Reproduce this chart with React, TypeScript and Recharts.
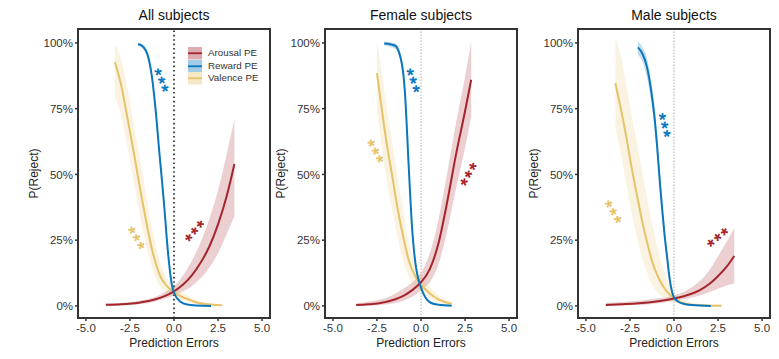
import React from 'react';
import { ComposedChart, Line, Area, XAxis, YAxis, ReferenceLine, ReferenceDot, Legend } from 'recharts';

// [x, P(Reject) %, ribbon low %, ribbon high %]
type Pt = [number, number, number, number];
type Stars = [number, number, number]; // [series index, x, P %] of the middle star of a "***" group

const xTicks = [-5, -2.5, 0, 2.5, 5];
const yTicks = [0, 25, 50, 75, 100];
const xDomain: [number, number] = [-5.45, 5.45];
const yDomain: [number, number] = [-4.6, 105.3];
const seriesNames = ['Arousal PE', 'Reward PE', 'Valence PE'];
const panelTitles = ['All subjects', 'Female subjects', 'Male subjects'];

// ---------- All subjects ----------
const allArousal: Pt[] = [
  [-3.87, 0.4, 0.1, 0.9], [-3, 0.6, 0.2, 1.2], [-2, 1.2, 0.6, 2.0], [-1, 2.6, 1.8, 3.6],
  [-0.5, 3.8, 2.8, 5.3], [0, 5.5, 4.0, 7.5], [0.5, 8.0, 5.5, 11.5], [1, 11.5, 7.5, 17],
  [1.5, 16.3, 10.5, 24], [2, 22.5, 14.5, 33], [2.5, 31, 20, 44], [3, 42, 27.5, 58], [3.43, 54, 34, 71],
];
const allReward: Pt[] = [
  [-2.04, 99.6, 98.8, 100], [-1.75, 98.5, 97.5, 99.3], [-1.5, 95.5, 94, 97], [-1.25, 87, 85, 89],
  [-1.05, 75, 73, 77], [-0.84, 59, 57, 61], [-0.58, 40, 38, 42], [-0.35, 21, 19.5, 22.5],
  [-0.14, 8.7, 7.8, 9.8], [0, 5, 4.3, 5.8], [0.37, 1.6, 1.2, 2], [0.75, 0.5, 0.3, 0.7],
  [1.25, 0.15, 0.05, 0.3], [2.1, 0, 0, 0.1],
];
const allValence: Pt[] = [
  [-3.36, 92.7, 80, 99.5], [-3, 84, 72, 94], [-2.74, 75, 64, 86], [-2.3, 59, 48, 70],
  [-1.8, 40, 30, 51], [-1.23, 21, 14, 29], [-0.76, 11, 7, 16], [-0.4, 7.5, 5, 10.5],
  [0, 5.2, 3.5, 7.2], [0.5, 3.3, 2.1, 5], [0.75, 2.7, 1.7, 4], [1.2, 1.5, 0.8, 2.4],
  [1.67, 0.8, 0.4, 1.4], [2.2, 0.4, 0.1, 0.9], [2.74, 0.2, 0, 0.6],
];
const allStars: Stars[] = [[1, -0.62, 85.8], [2, -2.04, 25.9], [0, 1.13, 29.1]];

// ---------- Female subjects ----------
const femArousal: Pt[] = [
  [-3.68, 0.3, 0, 1], [-3, 0.6, 0.1, 1.6], [-2, 1.5, 0.5, 3], [-1, 3.8, 2, 6.5],
  [-0.5, 6, 3.5, 9], [0, 9, 6, 12.5], [0.5, 14, 9, 20], [1, 24, 16, 33],
  [1.5, 40, 29, 51], [2, 58, 45, 70], [2.5, 74, 60, 87], [2.85, 86, 72, 100.5],
];
const femReward: Pt[] = [
  [-2.09, 99.8, 99, 100.5], [-1.75, 99.5, 98.5, 100.3], [-1.43, 98.8, 97.6, 99.8], [-1.25, 96.5, 95, 97.8],
  [-1.1, 92.5, 90.5, 94.3], [-1.0, 88, 85.8, 90], [-0.91, 81, 78.6, 83.3], [-0.82, 70, 67.5, 72.5],
  [-0.72, 56, 53.5, 58.5], [-0.62, 43, 40.5, 45.5], [-0.53, 32, 29.8, 34.2], [-0.42, 22.5, 20.5, 24.5],
  [-0.3, 15.5, 13.8, 17.2], [-0.18, 11, 9.6, 12.5], [-0.08, 8.6, 7.4, 9.9], [0, 7, 6, 8.1],
  [0.17, 4.2, 3.4, 5.1], [0.35, 2.3, 1.8, 2.9], [0.55, 1.2, 0.8, 1.7], [1, 0.4, 0.2, 0.7], [1.74, 0.1, 0, 0.3],
];
const femValence: Pt[] = [
  [-2.5, 88.5, 75, 100.5], [-2.25, 76, 62, 90], [-2, 64, 50, 78], [-1.65, 50, 37, 63],
  [-1.3, 36, 25, 48], [-1.0, 26, 17, 36], [-0.68, 17, 11, 24], [-0.3, 11, 7, 15.5],
  [0, 8.2, 5.2, 11.5], [0.45, 5, 3, 7.5], [1.02, 2.4, 1.2, 4], [1.74, 0.8, 0.2, 1.8],
];
const femStars: Stars[] = [[1, -0.36, 85.7], [2, -2.49, 58.9], [0, 2.64, 50.6]];

// ---------- Male subjects ----------
const maleArousal: Pt[] = [
  [-3.87, 0.3, 0, 1.2], [-3, 0.6, 0.1, 1.5], [-2, 1.0, 0.3, 2], [-1, 1.7, 0.9, 2.8],
  [0, 2.8, 2, 4], [0.5, 3.6, 2.5, 5.2], [1, 4.6, 3.2, 7], [1.47, 6, 4, 9.5],
  [2, 8.3, 5.2, 13.5], [2.42, 10.8, 6.3, 18], [3, 15, 7.8, 24.5], [3.42, 19, 8.5, 29.5],
];
const maleReward: Pt[] = [
  [-2.05, 98.3, 95.5, 100.5], [-1.8, 96, 93, 98.5], [-1.54, 91, 87, 94.5], [-1.3, 82, 78, 86],
  [-1.11, 72, 68, 76], [-0.95, 60, 56, 64], [-0.79, 46, 42, 50], [-0.66, 36, 32.5, 39.5],
  [-0.55, 28, 25, 31], [-0.4, 19, 16.5, 21.5], [-0.23, 9.5, 8, 11], [0, 3.2, 2.4, 4],
  [0.25, 1.6, 1.1, 2.1], [0.53, 0.8, 0.5, 1.2], [1, 0.3, 0.1, 0.5], [2.09, 0, 0, 0.1],
];
const maleValence: Pt[] = [
  [-3.33, 84.8, 68, 102], [-3.05, 76, 59, 96], [-2.7, 64, 46, 84], [-2.39, 52, 35, 72],
  [-2.1, 42, 26, 62], [-1.8, 32, 18, 51], [-1.5, 23.5, 12, 40], [-1.2, 16, 7.5, 30],
  [-0.9, 11, 5, 21], [-0.6, 7.3, 3.2, 14], [-0.3, 4.7, 2, 8.5], [0, 3, 1.5, 5],
  [0.9, 0.5, 0.1, 1.5], [1.8, 0.2, 0, 0.7], [2.7, 0.1, 0, 0.4],
];
const maleStars: Stars[] = [[1, -0.45, 68.6], [2, -3.36, 35.8], [0, 2.45, 26.7]];

// styling
const COLORS = ['#A4262C', '#0B77BD', '#E6C36A'];
const RIBBON_OPACITY = [0.22, 0.25, 0.2];
const FONT = "'Liberation Sans', Arial, Helvetica, sans-serif";
const AXIS = '#333333';
const STAR_ANGLES = [
  [-50, 67, 60],
  [-61, 70, 62],
  [-40, 75, 60],
];
const STAR_SIZE = 19;

const toRows = (pts: Pt[]) => pts.map(([x, p, lo, hi]) => ({ x, p, band: [lo, hi] }));
const xFmt = (v: number) => v.toFixed(1);
const yFmt = (v: number) => `${v}%`;

const renderLegend = () => (
  <div style={{ fontFamily: FONT, fontSize: 9.8, color: '#333', lineHeight: '12px' }}>
    {seriesNames.map((n, i) => (
      <div key={n} style={{ display: 'flex', alignItems: 'center', height: 12.5 }}>
        <svg width={14} height={12.5} style={{ display: 'block' }}>
          <rect x={0} y={0} width={14} height={12.5} fill={COLORS[i]} fillOpacity={0.38} />
          <line x1={0} x2={14} y1={6.25} y2={6.25} stroke={COLORS[i]} strokeWidth={1.8} />
        </svg>
        <span style={{ marginLeft: 6 }}>{n}</span>
      </div>
    ))}
  </div>
);

type PanelProps = {
  index: number;
  series: Pt[][];
  stars: Stars[];
  boxLeft: number;
  showLegend: boolean;
  boldRef: boolean;
};

const Y_AXIS_W = 55;
const BOX_W = 192;
const TOP = 29;
const BOTTOM = 12;
const X_AXIS_H = 29;
const CHART_H = 359;
const FRAME = 2;

function Panel({ index, series, stars, boxLeft, showLegend, boldRef }: PanelProps) {
  const rows = series.map(toRows);
  const drawOrder = [2, 0, 1];
  const boxH = CHART_H - TOP - BOTTOM - X_AXIS_H;
  const axisLineStyle = { stroke: AXIS, strokeWidth: 2 };
  const tickLineStyle = { stroke: AXIS, strokeWidth: 1.5 };
  const frameBase: React.CSSProperties = { position: 'absolute', background: AXIS, pointerEvents: 'none' };
  return (
    <div style={{ position: 'absolute', left: boxLeft - Y_AXIS_W, top: 0, width: Y_AXIS_W + BOX_W + 4, height: CHART_H }}>
      <div
        style={{
          position: 'absolute', left: Y_AXIS_W, width: BOX_W, top: 6, textAlign: 'center',
          fontSize: 14, lineHeight: '18px', color: '#111', fontFamily: FONT,
        }}
      >
        {panelTitles[index]}
      </div>
      <ComposedChart
        width={Y_AXIS_W + BOX_W + 4}
        height={CHART_H}
        margin={{ top: TOP, right: 4, bottom: BOTTOM, left: 0 }}
        style={{ fontFamily: FONT }}
      >
        <XAxis
          dataKey="x" type="number" domain={xDomain} ticks={xTicks} tickFormatter={xFmt}
          allowDataOverflow height={X_AXIS_H} tickSize={3} tickMargin={3}
          axisLine={axisLineStyle} tickLine={tickLineStyle}
          tick={{ fontSize: 11.5, fill: '#333' }}
          label={{ value: 'Prediction Errors', position: 'insideBottom', offset: 0, style: { fontSize: 12, fill: '#222' } }}
        />
        <YAxis
          type="number" domain={yDomain} ticks={yTicks} tickFormatter={yFmt} allowDataOverflow
          width={Y_AXIS_W} tickSize={3} tickMargin={2}
          axisLine={axisLineStyle} tickLine={tickLineStyle}
          tick={{ fontSize: 11.5, fill: '#333' }}
          label={{ value: 'P(Reject)', angle: -90, position: 'insideLeft', offset: 11, style: { textAnchor: 'middle', fontSize: 12, fill: '#222' } }}
        />
        {[0, 1, 2].map((i) => (
          <Area
            key={`band-${i}`} data={rows[i]} dataKey="band" type="monotone" stroke="none"
            fill={COLORS[i]} fillOpacity={RIBBON_OPACITY[i]} isAnimationActive={false}
          />
        ))}
        <ReferenceLine
          x={0}
          stroke={boldRef ? '#222' : '#999'}
          strokeWidth={boldRef ? 1.6 : 0.8}
          strokeDasharray={boldRef ? '1.6 2.8' : '1.5 1.5'}
        />
        {drawOrder.map((i) => (
          <Line
            key={`line-${i}`} data={rows[i]} dataKey="p" type="monotone" stroke={COLORS[i]}
            strokeWidth={2} dot={false} isAnimationActive={false}
          />
        ))}
        {stars.map(([s, x, y], k) => (
          <ReferenceDot
            key={`star-${k}`} x={x} y={y} r={0}
            shape={(props: any) => (
              <text
                x={props.cx} y={props.cy} dy={STAR_SIZE * 0.57} textAnchor="middle"
                fontSize={STAR_SIZE} fontWeight="bold" letterSpacing={1.5}
                fill={COLORS[s]} fontFamily={FONT}
                transform={`rotate(${STAR_ANGLES[index][s]} ${props.cx} ${props.cy})`}
              >
                ***
              </text>
            )}
          />
        ))}
        {showLegend && (
          <Legend
            layout="vertical" align="center" verticalAlign="middle" content={renderLegend}
            wrapperStyle={{ position: 'absolute', left: 165, top: 47, width: 80 }}
          />
        )}
      </ComposedChart>
      {/* panel frame around the plotting area */}
      <div style={{ ...frameBase, left: Y_AXIS_W - 1, top: TOP - 1, width: BOX_W + FRAME, height: FRAME }} />
      <div style={{ ...frameBase, left: Y_AXIS_W - 1, top: TOP + boxH - 1, width: BOX_W + FRAME, height: FRAME }} />
      <div style={{ ...frameBase, left: Y_AXIS_W - 1, top: TOP - 1, width: FRAME, height: boxH + FRAME }} />
      <div style={{ ...frameBase, left: Y_AXIS_W + BOX_W - 1, top: TOP - 1, width: FRAME, height: boxH + FRAME }} />
    </div>
  );
}

export default function App() {
  return (
    <div style={{ position: 'absolute', left: 0, top: 0, width: 779, height: 359, background: '#fff', fontFamily: FONT }}>
      <Panel index={0} series={[allArousal, allReward, allValence]} stars={allStars} boxLeft={78} showLegend boldRef />
      <Panel index={1} series={[femArousal, femReward, femValence]} stars={femStars} boxLeft={325} showLegend={false} boldRef={false} />
      <Panel index={2} series={[maleArousal, maleReward, maleValence]} stars={maleStars} boxLeft={578} showLegend={false} boldRef={false} />
    </div>
  );
}
